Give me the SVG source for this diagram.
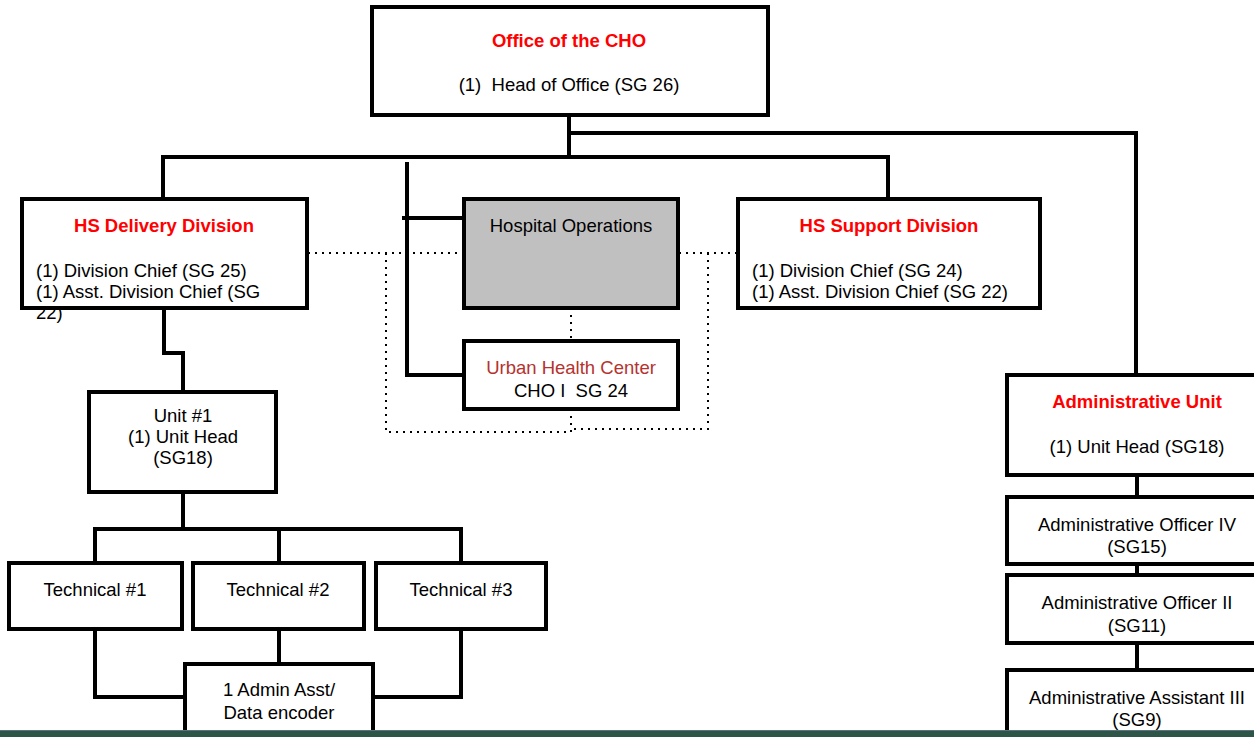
<svg xmlns="http://www.w3.org/2000/svg" width="1254" height="737" viewBox="0 0 1254 737">
<style>
.box{fill:#fff;stroke:#000;stroke-width:4}
.grey{fill:#c0c0c0;stroke:#000;stroke-width:4}
.ln{fill:none;stroke:#000;stroke-width:4;stroke-linejoin:miter}
.dot{fill:none;stroke:#000;stroke-width:2;stroke-dasharray:2 5}
text{font-family:"Liberation Sans",Arial,sans-serif;font-size:18.5px;fill:#000}
.t{font-weight:bold;fill:#ff0000}
.c{text-anchor:middle}
</style>
<rect width="1254" height="737" fill="#fff"/>
<g id="connectors">
<polyline class="ln" points="569,116 569,157"/>
<polyline class="ln" points="569,133 1136,133 1136,375"/>
<polyline class="ln" points="163,199 163,157 888,157 888,199"/>
<polyline class="ln" points="407,162 407,375 464,375"/>
<polyline class="ln" points="402,218 464,218"/>
<polyline class="ln" points="164,308 164,353 183,353 183,392"/>
<polyline class="ln" points="183,492 183,529"/>
<polyline class="ln" points="95,563 95,529 461,529 461,563"/>
<polyline class="ln" points="279,529 279,563"/>
<polyline class="ln" points="95,629 95,697 185,697"/>
<polyline class="ln" points="461,629 461,697 373,697"/>
<polyline class="ln" points="279,629 279,664"/>
<polyline class="ln" points="1137,475 1137,497"/>
<polyline class="ln" points="1137,564 1137,575"/>
<polyline class="ln" points="1137,643 1137,670"/>
<polyline class="dot" points="308,253 463,253"/>
<polyline class="dot" points="679,253 737,253"/>
<polyline class="dot" points="386,253 386,432 571,432"/>
<polyline class="dot" points="708,253 708,429 571,429"/>
<polyline class="dot" points="571,409 571,432"/>
<polyline class="dot" points="571,308 571,341"/>
</g>
<g id="office">
<rect class="box" x="372" y="7" width="396" height="108"/>
<text class="t c" x="569" y="47">Office of the CHO</text>
<text class="c" x="569" y="91" xml:space="preserve">(1)  Head of Office (SG 26)</text>
</g>
<g id="hs-delivery">
<rect class="box" x="22" y="199" width="285" height="109"/>
<text class="t c" x="164" y="232">HS Delivery Division</text>
<text x="36" y="277">(1) Division Chief (SG 25)</text>
<text x="36" y="298">(1) Asst. Division Chief (SG</text>
<text x="36" y="319">22)</text>
</g>
<g id="hospital-ops">
<rect class="grey" x="464" y="199" width="214" height="109"/>
<text class="c" x="571" y="232">Hospital Operations</text>
</g>
<g id="urban-health">
<rect class="box" x="464" y="341" width="214" height="68"/>
<text class="c" x="571" y="374" style="fill:#b5332e">Urban Health Center</text>
<text class="c" x="571" y="397" xml:space="preserve">CHO I  SG 24</text>
</g>
<g id="hs-support">
<rect class="box" x="738" y="199" width="302" height="109"/>
<text class="t c" x="889" y="232">HS Support Division</text>
<text x="752" y="277">(1) Division Chief (SG 24)</text>
<text x="752" y="298">(1) Asst. Division Chief (SG 22)</text>
</g>
<g id="unit1">
<rect class="box" x="89" y="392" width="187" height="100"/>
<text class="c" x="183" y="422">Unit #1</text>
<text class="c" x="183" y="443">(1) Unit Head</text>
<text class="c" x="183" y="464">(SG18)</text>
</g>
<g id="tech1">
<rect class="box" x="9" y="563" width="173" height="66"/>
<text class="c" x="95" y="596">Technical #1</text>
</g>
<g id="tech2">
<rect class="box" x="193" y="563" width="171" height="66"/>
<text class="c" x="278" y="596">Technical #2</text>
</g>
<g id="tech3">
<rect class="box" x="376" y="563" width="170" height="66"/>
<text class="c" x="461" y="596">Technical #3</text>
</g>
<g id="admin-asst">
<rect class="box" x="185" y="664" width="188" height="74"/>
<text class="c" x="279" y="696">1 Admin Asst/</text>
<text class="c" x="279" y="719">Data encoder</text>
</g>
<g id="admin-unit">
<rect class="box" x="1007" y="375" width="270" height="100"/>
<text class="t c" x="1137" y="408">Administrative Unit</text>
<text class="c" x="1137" y="453">(1) Unit Head (SG18)</text>
</g>
<g id="admin-officer-iv">
<rect class="box" x="1007" y="497" width="270" height="67"/>
<text class="c" x="1137" y="531">Administrative Officer IV</text>
<text class="c" x="1137" y="553">(SG15)</text>
</g>
<g id="admin-officer-ii">
<rect class="box" x="1007" y="575" width="270" height="68"/>
<text class="c" x="1137" y="609">Administrative Officer II</text>
<text class="c" x="1137" y="632">(SG11)</text>
</g>
<g id="admin-assistant-iii">
<rect class="box" x="1007" y="670" width="270" height="80"/>
<text class="c" x="1137" y="704">Administrative Assistant III</text>
<text class="c" x="1137" y="726">(SG9)</text>
</g>
<rect x="0" y="730" width="1254" height="7" fill="#2d5548"/>
<line x1="0" y1="730.5" x2="1254" y2="730.5" stroke="#5a7280" stroke-width="1"/>
</svg>
